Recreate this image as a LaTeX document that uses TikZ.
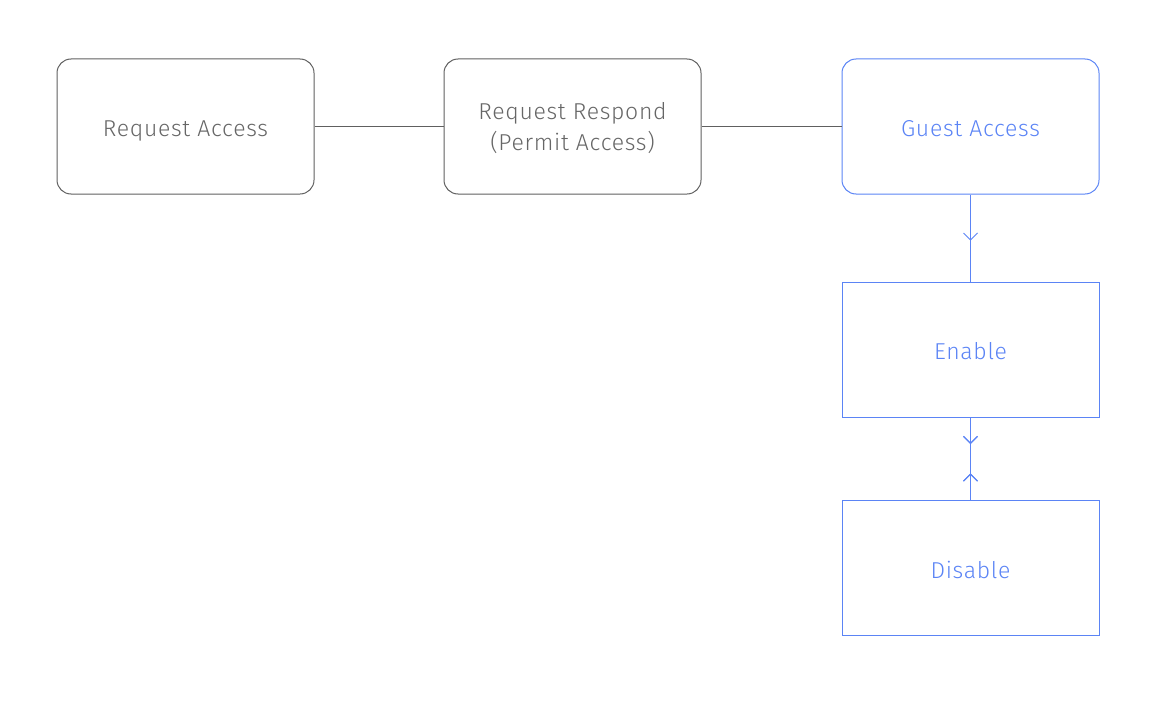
\documentclass[tikz,border=0pt]{standalone}
\usepackage{fontspec}
\setmainfont{Fira Sans}[UprightFont={* Light}, LetterSpace=3]
\usetikzlibrary{decorations.markings}
\definecolor{boxgray}{HTML}{606060}
\definecolor{txtgray}{HTML}{666666}
\definecolor{flowblue}{HTML}{5B84F5}
\newcommand{\lowertext}[2]{\raisebox{-#1}[\height][\depth]{#2}}
\tikzset{
  graybox/.style={draw=boxgray, line width=1pt, rounded corners=14pt, minimum width=257pt, minimum height=135pt, text=txtgray, align=center, font=\fontsize{23}{31}\selectfont},
  bluebox/.style={draw=flowblue, line width=1pt, minimum width=257pt, minimum height=135pt, text=flowblue, align=center, font=\fontsize{23}{31}\selectfont},
  grayline/.style={draw=boxgray, line width=1pt},
  blueline/.style={draw=flowblue, line width=1pt},
  downchev/.style={postaction={decorate}, decoration={markings, mark=at position #1 with {\draw[flowblue, line width=1pt] (-7pt,7pt) -- (0,0) -- (-7pt,-7pt);}}},
  upchev/.style={postaction={decorate}, decoration={markings, mark=at position #1 with {\draw[flowblue, line width=1pt] (7pt,7pt) -- (0,0) -- (7pt,-7pt);}}}
}
\begin{document}
\begin{tikzpicture}[x=1pt,y=-1pt]
\useasboundingbox (0,0) rectangle (1166,725);
\node[graybox] (req) at (185.5,126.5) {\lowertext{4.5pt}{Request Access}};
\node[graybox] (resp) at (572.5,126.5) {\lowertext{2pt}{\begin{tabular}{@{}c@{}}Request Respond\\(Permit Access)\end{tabular}}};
\node[graybox, draw=flowblue, text=flowblue] (guest) at (970.5,126.5) {\lowertext{2.5pt}{Guest Access}};
\node[bluebox] (enable) at (970.5,349.5) {\lowertext{1.5pt}{Enable}};
\node[bluebox] (disable) at (970.5,568) {\lowertext{1.5pt}{Disable}};
\draw[grayline] (req.east) -- (resp.west);
\draw[grayline] (resp.east) -- (guest.west);
\draw[blueline, downchev=0.523] (guest.south) -- (enable.north);
\draw[blueline, downchev=0.313, upchev=0.687] (enable.south) -- (disable.north);
\end{tikzpicture}
\end{document}
